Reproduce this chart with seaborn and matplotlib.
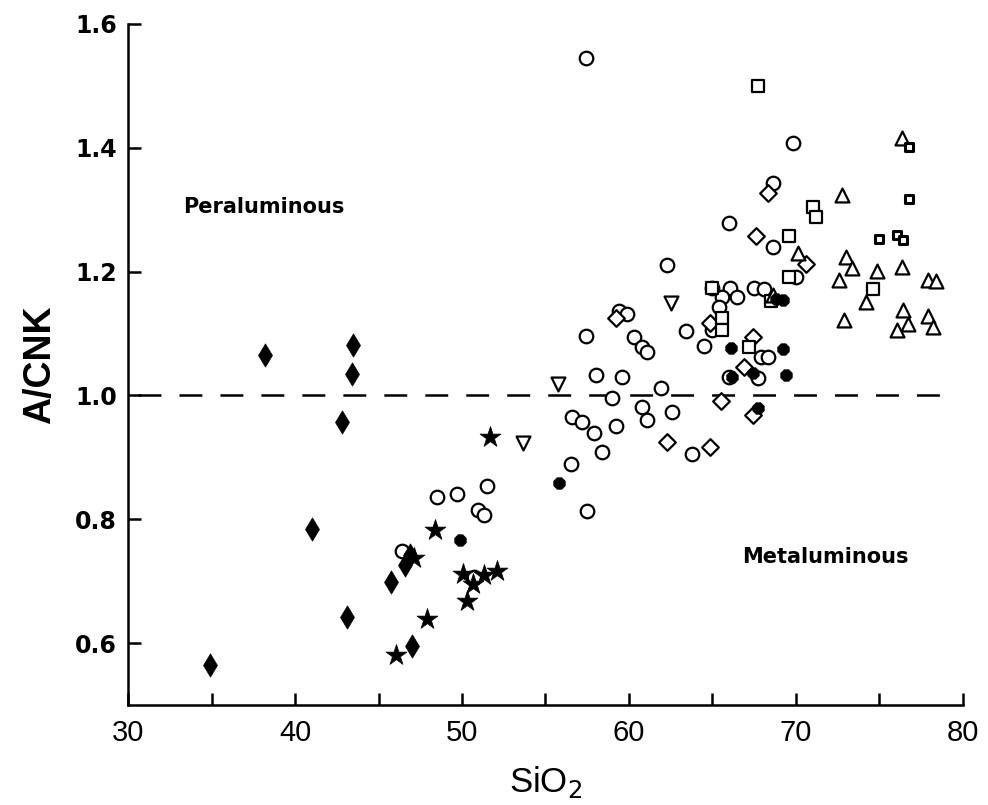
import matplotlib
matplotlib.use("Agg")
import matplotlib.pyplot as plt
import seaborn as sns
import pandas as pd

# ---- data (SiO2, A/CNK) ----
filled_diamond_x = [34.9, 38.2, 41.0, 42.8, 43.4, 43.5, 43.1, 45.75, 46.6, 46.9, 47.0]
filled_diamond_y = [0.564, 1.065, 0.784, 0.957, 1.035, 1.082, 0.642, 0.698, 0.726, 0.742, 0.595]

star_x = [51.7, 48.4, 47.1, 50.06, 51.3, 52.1, 50.66, 50.3, 47.9, 46.05]
star_y = [0.933, 0.783, 0.737, 0.711, 0.710, 0.716, 0.695, 0.668, 0.639, 0.581]

filled_hex_x = [49.9, 55.8, 66.1, 67.7, 67.4, 69.2, 69.2, 69.4, 66.2, 68.8]
filled_hex_y = [0.766, 0.858, 1.077, 0.980, 1.036, 1.154, 1.075, 1.033, 1.030, 1.155]

circle_x = [57.4, 69.8, 68.6, 66.0, 68.6, 62.3, 70.0, 65.0, 66.05, 65.6, 66.5, 65.4,
            67.5, 68.1, 59.4, 59.9, 65.0, 63.4, 57.4, 60.3, 60.8, 61.1, 64.5, 67.9,
            68.3, 58.0, 59.6, 66.0, 67.7, 61.9, 59.0, 56.6, 57.2, 57.9, 59.2, 60.8,
            61.1, 62.6, 58.4, 56.5, 57.5, 63.8, 48.5, 49.7, 51.5, 50.96, 51.3, 46.4, 50.7]
circle_y = [1.545, 1.408, 1.343, 1.279, 1.240, 1.211, 1.191, 1.173, 1.173, 1.159, 1.159, 1.143,
            1.173, 1.172, 1.136, 1.131, 1.106, 1.104, 1.096, 1.094, 1.078, 1.070, 1.080, 1.062,
            1.062, 1.033, 1.030, 1.030, 1.028, 1.012, 0.996, 0.965, 0.957, 0.939, 0.950, 0.981,
            0.960, 0.973, 0.909, 0.889, 0.813, 0.905, 0.836, 0.841, 0.854, 0.815, 0.807, 0.749, 0.707]

open_diamond_x = [59.2, 62.3, 64.85, 65.5, 67.4, 67.6, 70.6, 68.3, 64.85, 67.4, 66.9]
open_diamond_y = [1.125, 0.925, 0.917, 0.991, 0.968, 1.258, 1.212, 1.327, 1.117, 1.094, 1.046]

down_tri_x = [55.75, 53.65, 62.5]
down_tri_y = [1.018, 0.923, 1.149]

square_x = [67.7, 71.0, 71.2, 69.6, 69.6, 74.6, 65.6, 65.6, 67.2, 68.5, 64.97]
square_y = [1.500, 1.304, 1.288, 1.258, 1.192, 1.172, 1.125, 1.106, 1.078, 1.153, 1.173]

up_tri_x = [70.1, 68.6, 73.0, 73.35, 72.6, 74.85, 76.35, 77.9, 78.4, 74.2, 72.9,
            76.4, 76.7, 76.05, 77.9, 78.2, 76.35, 72.75]
up_tri_y = [1.230, 1.162, 1.224, 1.206, 1.186, 1.201, 1.208, 1.186, 1.185, 1.151, 1.122,
            1.138, 1.115, 1.106, 1.128, 1.110, 1.416, 1.324]

small_sq_x = [75.0, 76.05, 76.4, 76.8, 76.8]
small_sq_y = [1.253, 1.259, 1.251, 1.401, 1.317]

x_ticks = [30, 40, 50, 60, 70, 80]
x_minor = [35, 45, 55, 65, 75]
y_ticks = [0.6, 0.8, 1.0, 1.2, 1.4, 1.6]
y_ticklabels = ["0.6", "0.8", "1.0", "1.2", "1.4", "1.6"]

sns.set_style("ticks")
plt.rcParams["font.family"] = ["DejaVu Sans"]
plt.rcParams["lines.scale_dashes"] = False
plt.rcParams["text.color"] = "black"
plt.rcParams["axes.labelcolor"] = "black"
plt.rcParams["xtick.color"] = "black"
plt.rcParams["ytick.color"] = "black"
plt.rcParams["axes.edgecolor"] = "black"

fig = plt.figure(figsize=(9.88, 8.05), dpi=100)
ax = fig.add_axes([0.1296, 0.1242, 0.845, 0.846])

groups = [
    # x, y, marker, size, face, edge, lw
    (circle_x, circle_y, "o", 95, "white", "black", 1.6),
    (open_diamond_x, open_diamond_y, "D", 72, "white", "black", 1.6),
    (square_x, square_y, "s", 70, "white", "black", 1.6),
    (up_tri_x, up_tri_y, "^", 100, "white", "black", 1.6),
    (down_tri_x, down_tri_y, "v", 100, "white", "black", 1.6),
    (small_sq_x, small_sq_y, "s", 40, "white", "black", 2.2),
    (filled_hex_x, filled_hex_y, "8", 80, "black", "black", 0.5),
    (star_x, star_y, "*", 250, "black", "black", 0.5),
    (filled_diamond_x, filled_diamond_y, "d", 140, "black", "black", 0.5),
]
for gx, gy, m, s, fc, ec, lw in groups:
    df = pd.DataFrame({"SiO2": gx, "ACNK": gy})
    sns.scatterplot(data=df, x="SiO2", y="ACNK", ax=ax, marker=m, s=s,
                    facecolor=fc, edgecolor=ec, linewidth=lw, zorder=3)

# boundary line A/CNK = 1.0
ax.plot([30.6, 79.0], [1.0, 1.0], color="black", lw=1.8,
        dashes=(16.5, 13), zorder=2)

ax.set_xlim(30, 80)
ax.set_ylim(0.5, 1.6)
sns.despine(ax=ax)
for sp in ["left", "bottom"]:
    ax.spines[sp].set_linewidth(1.8)

ax.set_xticks(x_ticks)
ax.set_xticks(x_minor, minor=True)
ax.set_yticks(y_ticks)
ax.set_yticklabels(y_ticklabels, fontsize=17, fontweight="bold")
ax.set_xticklabels([str(t) for t in x_ticks], fontsize=21,
                   family=["Liberation Sans Narrow", "Liberation Sans", "DejaVu Sans"])
ax.tick_params(axis="both", which="both", direction="in", length=9, width=1.8,
               colors="black")
ax.tick_params(axis="x", which="major", pad=10)
ax.tick_params(axis="y", which="major", pad=8)

ax.set_xlabel("SiO$_2$", fontsize=25, family=["Liberation Sans", "DejaVu Sans"],
              labelpad=12, color="black")
ax.set_ylabel("A/CNK", fontsize=27, fontweight="bold",
              family=["Liberation Sans", "DejaVu Sans"], labelpad=12, color="black")

ax.text(33.3, 1.304, "Peraluminous", fontsize=15, fontweight="bold",
        va="center", ha="left", color="black")
ax.text(66.8, 0.739, "Metaluminous", fontsize=15, fontweight="bold",
        va="center", ha="left", color="black")

fig.savefig("out.png", dpi=100)
